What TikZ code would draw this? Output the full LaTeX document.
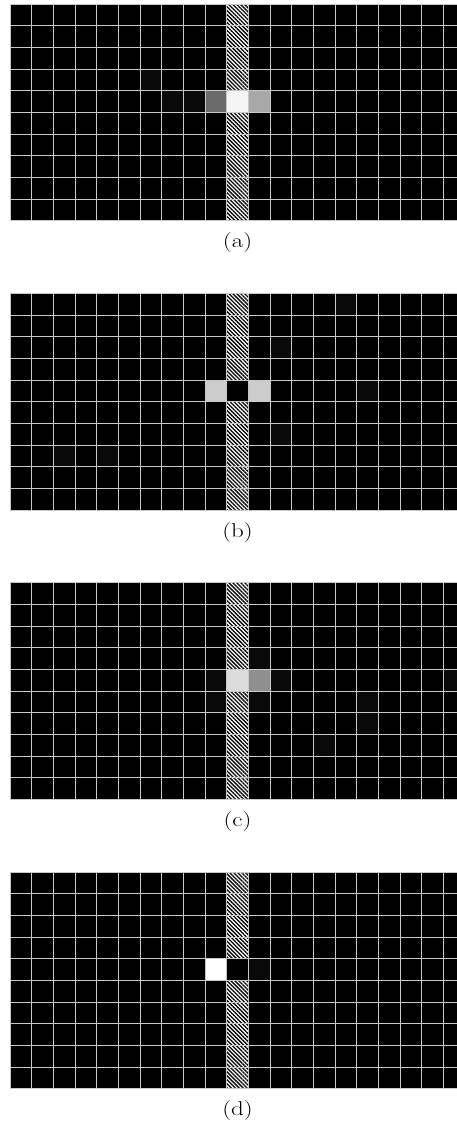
\documentclass[tikz,border=0pt]{standalone}
\usetikzlibrary{positioning,patterns.meta}
\definecolor{gridline}{HTML}{C8C8C8}
\definecolor{faint}{HTML}{090909}
\definecolor{darkcell}{HTML}{6B6B6B}
\definecolor{midcell}{HTML}{8F8F8F}
\definecolor{greycell}{HTML}{A8A8A8}
\definecolor{palecell}{HTML}{CCCCCC}
\definecolor{litcell}{HTML}{DCDCDC}
\definecolor{hotcell}{HTML}{F5F5F5}
\tikzset{
  cellgrid/.style={draw=gridline,line width=0.8pt},
  hatched/.style={preaction={fill=white},
    pattern={Lines[angle=-45,distance=2.8pt,line width=1.3pt]},pattern color=black},
  sublabel/.style={font=\fontsize{20}{23}\selectfont,inner sep=0pt}
}

\begin{document}
\begin{tikzpicture}[x=1pt,y=-1pt]
\useasboundingbox (0,0) rectangle (457,1130);
\clip (0,0) rectangle (457,1130);
% one panel per response map
\foreach \ty/\lab/\cells in {
  4/a/{6/3/faint,7/4/faint,8/4/faint,9/4/darkcell,10/4/hotcell,11/4/greycell},
  293.33/b/{2/7/faint,4/7/faint,15/0/faint,12/2/faint,16/4/faint,12/6/faint,
    9/4/palecell,10/4/black,11/4/palecell},
  582.67/c/{9/4/faint,9/5/faint,11/3/faint,12/4/faint,11/5/faint,16/5/faint,
    16/6/faint,14/7/faint,20/4/faint,10/4/litcell,11/4/midcell},
  872/d/{11/4/faint,9/4/white,10/4/black}}{
  \begin{scope}[shift={(10,\ty)},x=21.67pt,y=-21.67pt]
    \fill[black] (0,0) rectangle (21,10);
    \fill[hatched] (10,0) rectangle (11,10);
    \foreach \c/\r/\k in \cells
      \fill[\k] (\c,\r) rectangle ++(1,1);
    \foreach \i in {0,...,21}
      \draw[cellgrid] (\i,0) -- (\i,10);
    \foreach \j in {0,...,10}
      \draw[cellgrid] (0,\j) -- (21,\j);
    \coordinate (g-\lab) at (10.5,10);
  \end{scope}
  \node[sublabel,below=12pt of g-\lab] (cap-\lab) {\scalebox{1.25}[1]{(\lab)}};
}
\end{tikzpicture}
\end{document}
